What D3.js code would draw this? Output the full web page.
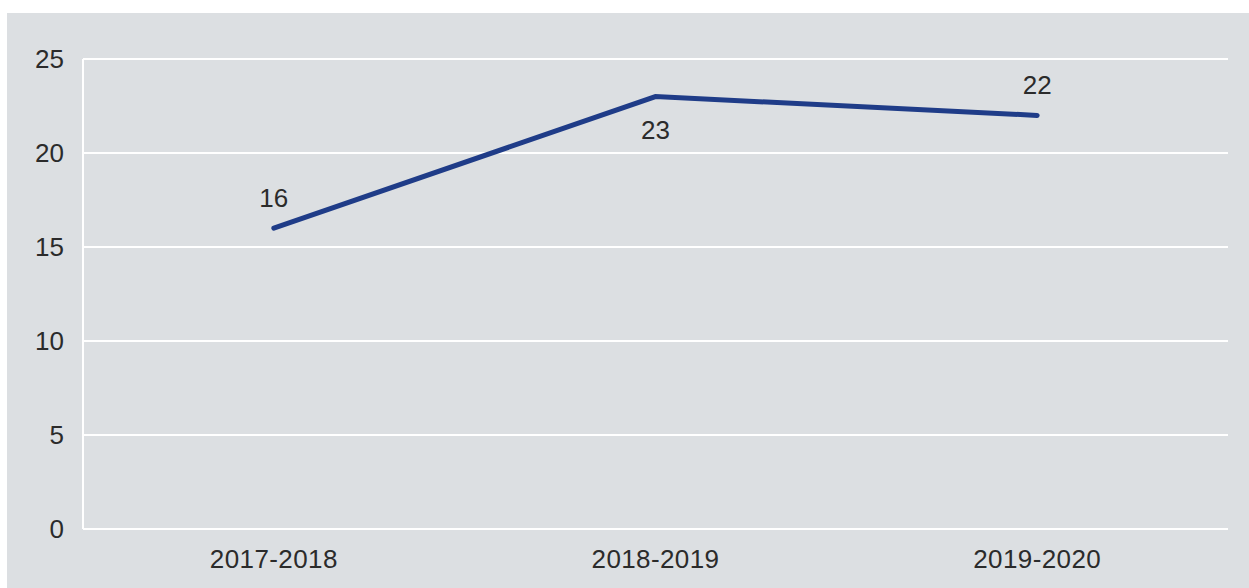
<!DOCTYPE html>
<html>
<head>
<meta charset="utf-8">
<script src="https://cdn.jsdelivr.net/npm/d3@7"></script>
<style>
  html, body { margin: 0; padding: 0; background: #ffffff; }
  svg { display: block; }
  text { font-family: "Liberation Sans", Arial, sans-serif; fill: #2b2b2b; }
</style>
</head>
<body>
<svg id="chart" width="1249" height="588"></svg>
<script>
// Data
const categories = ["2017-2018", "2018-2019", "2019-2020"];
const values = [16, 23, 22];
const labelPlacement = ["above", "below", "above"];
const yTicks = [0, 5, 10, 15, 20, 25];

const W = 1249, H = 588;
const margin = { top: 59, right: 21, bottom: 59, left: 83 };

const svg = d3.select("#chart");

// panel background
svg.append("rect")
  .attr("x", 7).attr("y", 13)
  .attr("width", W - 7).attr("height", H - 13)
  .attr("fill", "#dcdfe2");

const x = d3.scaleBand()
  .domain(categories)
  .range([margin.left, W - margin.right]);

const y = d3.scaleLinear()
  .domain([0, 25])
  .range([H - margin.bottom, margin.top]);

// horizontal gridlines
svg.append("g")
  .selectAll("line")
  .data(yTicks)
  .join("line")
  .attr("x1", margin.left)
  .attr("x2", W - margin.right)
  .attr("y1", d => y(d))
  .attr("y2", d => y(d))
  .attr("stroke", "#ffffff")
  .attr("stroke-width", 2);

// left axis line
svg.append("line")
  .attr("x1", margin.left).attr("x2", margin.left)
  .attr("y1", y(25)).attr("y2", y(0))
  .attr("stroke", "#ffffff")
  .attr("stroke-width", 2);

// y tick labels
svg.append("g")
  .selectAll("text")
  .data(yTicks)
  .join("text")
  .attr("x", 64)
  .attr("y", d => y(d))
  .attr("dy", "0.35em")
  .attr("text-anchor", "end")
  .attr("font-size", 26)
  .text(d => d);

// x tick labels
svg.append("g")
  .selectAll("text")
  .data(categories)
  .join("text")
  .attr("x", d => x(d) + x.bandwidth() / 2)
  .attr("y", 568)
  .attr("text-anchor", "middle")
  .attr("font-size", 26)
  .attr("letter-spacing", 0.4)
  .text(d => d);

// series line
const pts = categories.map((c, i) => ({ c, v: values[i], pos: labelPlacement[i] }));
const line = d3.line()
  .x(d => x(d.c) + x.bandwidth() / 2)
  .y(d => y(d.v));

svg.append("path")
  .datum(pts)
  .attr("d", line)
  .attr("fill", "none")
  .attr("stroke", "#1f3c88")
  .attr("stroke-width", 5)
  .attr("stroke-linecap", "round")
  .attr("stroke-linejoin", "miter");

// value labels
svg.append("g")
  .selectAll("text")
  .data(pts)
  .join("text")
  .attr("x", d => x(d.c) + x.bandwidth() / 2)
  .attr("y", d => d.pos === "above" ? y(d.v) - 21 : y(d.v) + 42)
  .attr("text-anchor", "middle")
  .attr("font-size", 26)
  .text(d => d.v);
</script>
</body>
</html>
